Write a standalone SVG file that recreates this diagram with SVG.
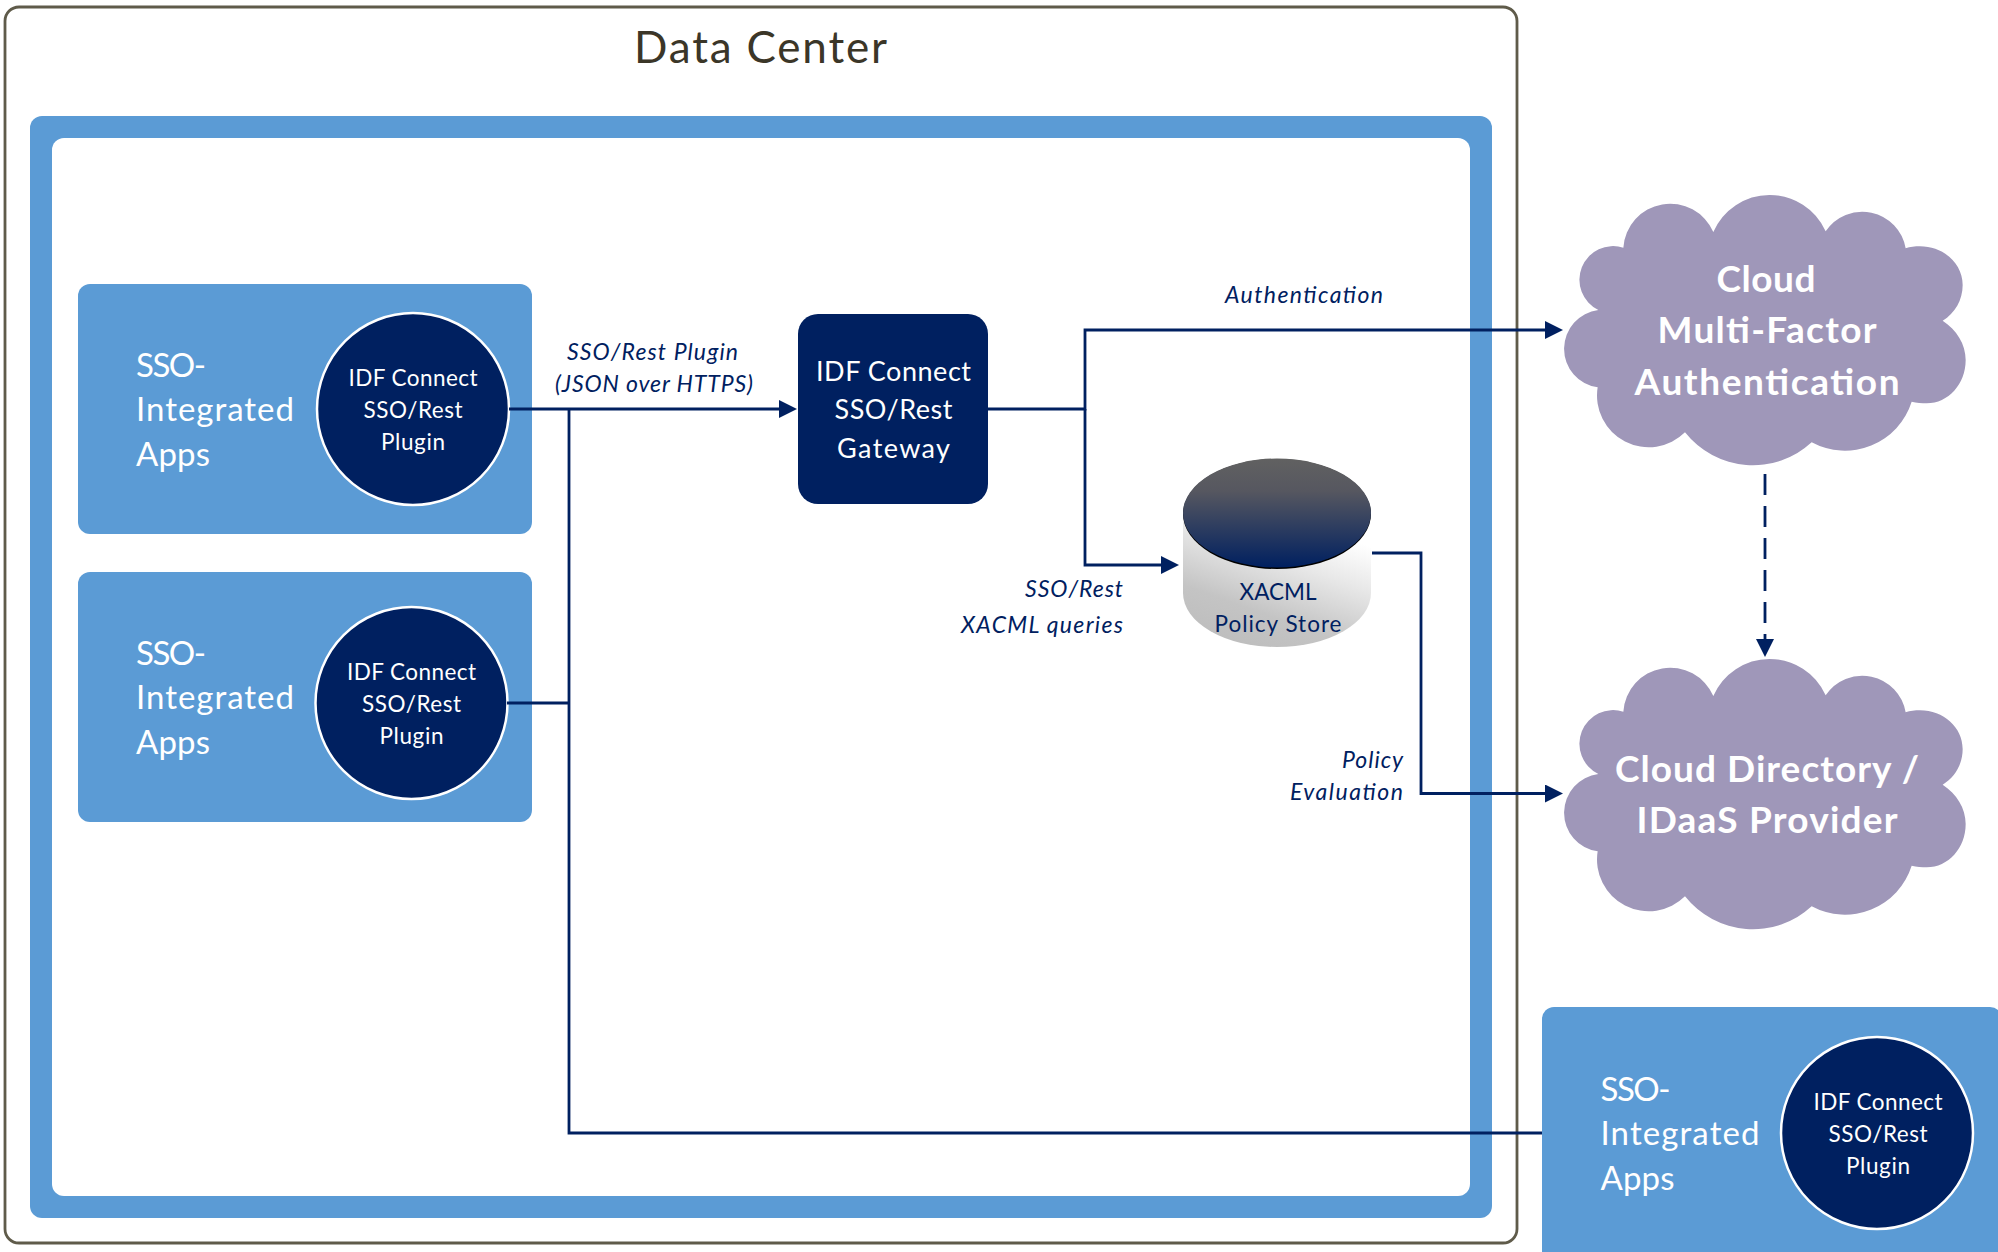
<svg xmlns="http://www.w3.org/2000/svg" xmlns:xlink="http://www.w3.org/1999/xlink" width="1998" height="1252" viewBox="0 0 1998 1252">
<style>
text{font-family:Lato,"Liberation Sans",sans-serif}
.app{fill:#5b9bd5}
.plug{fill:#002060;stroke:#fff;stroke-width:2.5}
.apptxt{fill:#fff;font-size:33px}
.plugtxt{fill:#fff;font-size:22.5px;text-anchor:middle}
.gwtxt{fill:#fff;font-size:27px;text-anchor:middle}
.cldtxt{fill:#fff;font-size:37px;font-weight:700;text-anchor:middle}
.lbl{fill:#002060;font-size:23px;font-style:italic}
.cyl{fill:#002060;font-size:22.5px;text-anchor:middle}
.wire{fill:none;stroke:#002060;stroke-width:2.8}
.arrow{marker-end:url(#head)}
.cloud{fill:#9f97b9}
</style>
<defs>
<marker id="head" markerUnits="userSpaceOnUse" markerWidth="18" markerHeight="18" viewBox="0 0 18 18" refX="12" refY="9" orient="auto"><path d="M0 0L18 9L0 18z" fill="#002060"/></marker>
<linearGradient id="capGrad" x1="0" y1="0" x2="0" y2="1"><stop offset="0" stop-color="#616161"/><stop offset="0.3" stop-color="#565760"/><stop offset="1" stop-color="#002060"/></linearGradient>
<linearGradient id="bodyGrad" x1="0.25" y1="1" x2="0.7" y2="0.1"><stop offset="0" stop-color="#bdbdbd"/><stop offset="0.3" stop-color="#c4c4c4"/><stop offset="0.7" stop-color="#e8e8e8"/><stop offset="1" stop-color="#ffffff"/></linearGradient>
<path id="cloudShape" d="M520 186A184 184 0 0 1 857 184A132 132 0 0 1 1097 235C1110 231 1125 229 1140 229C1210 229 1268 280 1268 345C1268 390 1245 430 1208 452C1250 480 1277 522 1277 570C1277 642 1225 700 1160 700C1145 700 1130 698 1115 695A210 210 0 0 1 815 817A260 260 0 0 1 435 787A155 155 0 0 1 173 652A117 117 0 0 1 175 420A101 101 0 0 1 250 233A141 141 0 0 1 520 186Z"/>
</defs>
<rect width="1998" height="1252" fill="#fff"/>
<g id="data-center">
<rect x="5" y="7" width="1512" height="1236" rx="14" fill="#fff" stroke="#5f5b4a" stroke-width="2.8"/>
<text x="634" y="63" font-size="44" fill="#3b3628" textLength="253">Data Center</text>
</g>
<g id="frame">
<rect x="30" y="116" width="1462" height="1102" rx="12" class="app"/>
<rect x="52" y="138" width="1418" height="1058" rx="12" fill="#fff"/>
</g>
<g id="apps-1">
<rect x="78" y="284" width="454" height="250" rx="12" class="app"/>
<text class="apptxt" x="136" y="377" textLength="70">SSO-</text>
<text class="apptxt" x="136" y="421" textLength="158">Integrated</text>
<text class="apptxt" x="136" y="466" textLength="74">Apps</text>
<circle cx="413" cy="409" r="96" class="plug"/>
<text class="plugtxt" x="413" y="386" textLength="129">IDF Connect</text>
<text class="plugtxt" x="413" y="418" textLength="99">SSO/Rest</text>
<text class="plugtxt" x="413" y="450" textLength="64">Plugin</text>
</g>
<g id="apps-2">
<rect x="78" y="572" width="454" height="250" rx="12" class="app"/>
<text class="apptxt" x="136" y="665" textLength="70">SSO-</text>
<text class="apptxt" x="136" y="709" textLength="158">Integrated</text>
<text class="apptxt" x="136" y="754" textLength="74">Apps</text>
<circle cx="411.500" cy="703" r="96" class="plug"/>
<text class="plugtxt" x="411.500" y="680" textLength="129">IDF Connect</text>
<text class="plugtxt" x="411.500" y="712" textLength="99">SSO/Rest</text>
<text class="plugtxt" x="411.500" y="744" textLength="64">Plugin</text>
</g>
<g id="apps-3">
<rect x="1542" y="1007" width="460" height="260" rx="12" class="app"/>
<text class="apptxt" x="1600.500" y="1101" textLength="70">SSO-</text>
<text class="apptxt" x="1600.500" y="1145" textLength="159">Integrated</text>
<text class="apptxt" x="1600.500" y="1190" textLength="74">Apps</text>
<circle cx="1877" cy="1133" r="96" class="plug"/>
<text class="plugtxt" x="1878" y="1110" textLength="129">IDF Connect</text>
<text class="plugtxt" x="1878" y="1142" textLength="99">SSO/Rest</text>
<text class="plugtxt" x="1878" y="1174" textLength="64">Plugin</text>
</g>
<g id="gateway">
<rect x="798" y="314" width="190" height="190" rx="20" fill="#002060"/>
<text class="gwtxt" x="893.500" y="381" textLength="155">IDF Connect</text>
<text class="gwtxt" x="893.500" y="419" textLength="118">SSO/Rest</text>
<text class="gwtxt" x="893.500" y="458" textLength="113">Gateway</text>
</g>
<g id="policy-store">
<path d="M1183 513V593A94 54 0 0 0 1371 593V513Z" fill="url(#bodyGrad)"/>
<ellipse cx="1277" cy="514" rx="94" ry="55" fill="#000"/>
<ellipse cx="1277" cy="513" rx="94" ry="54.500" fill="url(#capGrad)"/>
<text class="cyl" x="1278" y="600" textLength="77">XACML</text>
<text class="cyl" x="1278" y="632" textLength="127">Policy Store</text>
</g>
<g id="cloud-mfa">
<use href="#cloudShape" class="cloud" transform="translate(1540 170) scale(0.33333)"/>
<text class="cldtxt" x="1766" y="292" textLength="99">Cloud</text>
<text class="cldtxt" x="1767" y="343" textLength="219">Multi-Factor</text>
<text class="cldtxt" x="1767" y="395" textLength="265">Authentication</text>
</g>
<g id="cloud-directory">
<use href="#cloudShape" class="cloud" transform="translate(1540 634) scale(0.33333)"/>
<text class="cldtxt" x="1767" y="782" textLength="304">Cloud Directory /</text>
<text class="cldtxt" x="1767" y="833" textLength="261">IDaaS Provider</text>
</g>
<g id="connectors">
<path class="wire arrow" d="M509 409H791"/>
<path class="wire" d="M507 703H569M569 409V1133H1542"/>
<path class="wire arrow" d="M988 409H1085V330H1557"/>
<path class="wire arrow" d="M1085 409V565H1173"/>
<path class="wire arrow" d="M1372 553H1421V793.500H1557"/>
<path class="wire arrow" d="M1765 474V651" stroke-dasharray="21 11"/>
</g>
<g id="labels">
<text class="lbl" x="567" y="360" textLength="171">SSO/Rest Plugin</text>
<text class="lbl" x="555" y="392" textLength="198">(JSON over HTTPS)</text>
<text class="lbl" x="1225" y="303" textLength="158">Authentication</text>
<text class="lbl" x="1025" y="597" textLength="98">SSO/Rest</text>
<text class="lbl" x="961" y="633" textLength="162">XACML queries</text>
<text class="lbl" x="1342" y="768" textLength="61">Policy</text>
<text class="lbl" x="1290" y="800" textLength="113">Evaluation</text>
</g>
</svg>
